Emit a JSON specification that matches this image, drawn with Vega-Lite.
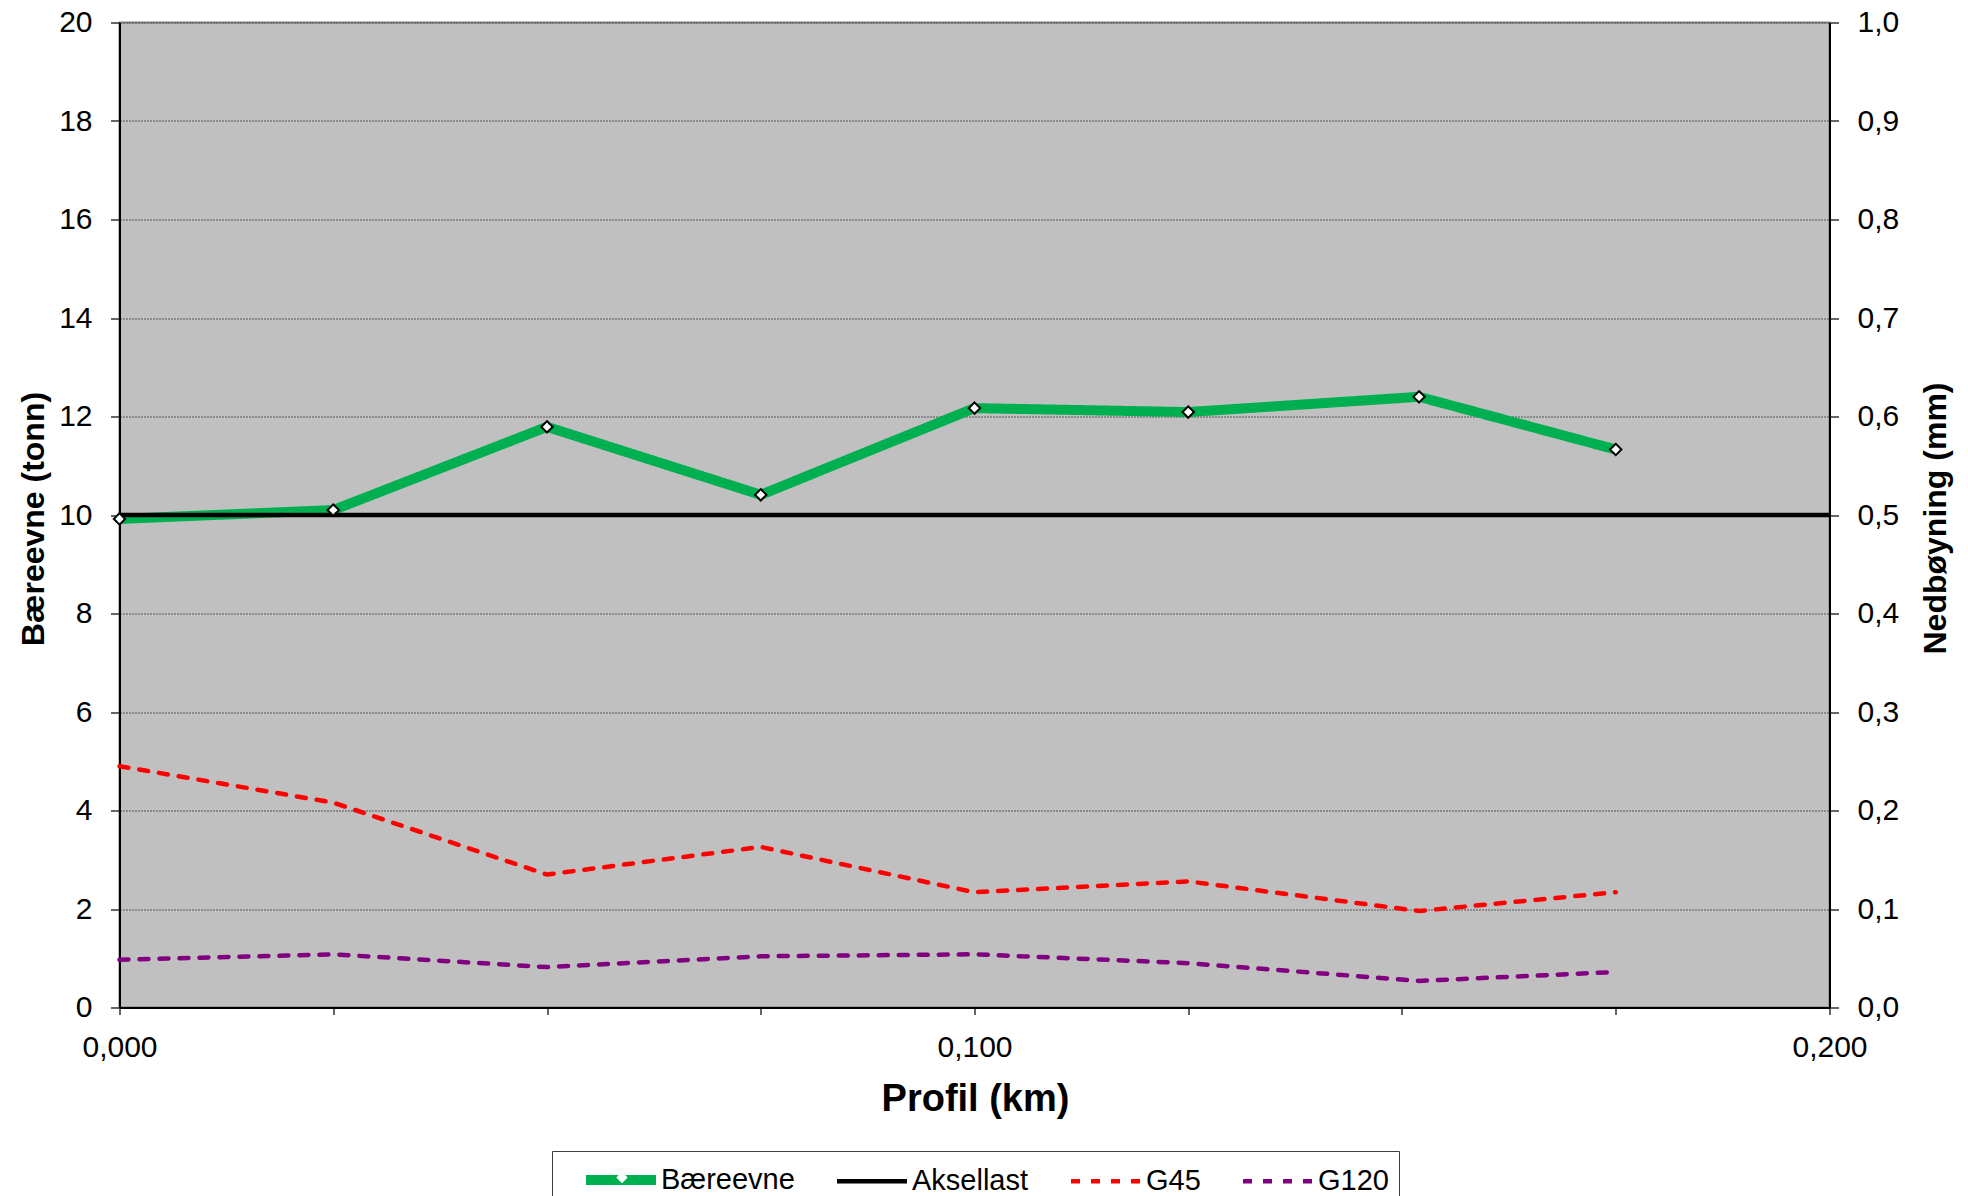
{
  "$schema": "https://vega.github.io/schema/vega-lite/v6.json",
  "width": 1710,
  "height": 985,
  "autosize": {"type": "none"},
  "padding": {"left": 119.5, "top": 22.5, "right": 138.5, "bottom": 188.5},
  "background": "white",
  "config": {
    "font": "Liberation Sans",
    "locale": {"number": {"decimal": ",", "thousands": " ", "grouping": [3], "currency": ["", " kr"]}},
    "view": {"fill": "#C0C0C0", "stroke": "#808080", "strokeWidth": 2},
    "axis": {
      "labelFont": "Liberation Sans",
      "labelFontSize": 30,
      "labelColor": "black",
      "titleFont": "Liberation Sans",
      "titleColor": "black",
      "titleFontWeight": "bold",
      "tickColor": "#333333",
      "tickWidth": 1.5,
      "domainColor": "black",
      "domainWidth": 2
    }
  },
  "data": {
    "values": [
      {"series": "Bæreevne", "km": 0.0, "value": 9.92},
      {"series": "Bæreevne", "km": 0.025, "value": 10.1},
      {"series": "Bæreevne", "km": 0.05, "value": 11.79},
      {"series": "Bæreevne", "km": 0.075, "value": 10.41},
      {"series": "Bæreevne", "km": 0.1, "value": 12.17},
      {"series": "Bæreevne", "km": 0.125, "value": 12.09},
      {"series": "Bæreevne", "km": 0.152, "value": 12.4},
      {"series": "Bæreevne", "km": 0.175, "value": 11.33},
      {"series": "Aksellast", "km": 0.0, "value": 10},
      {"series": "Aksellast", "km": 0.2, "value": 10},
      {"series": "G45", "km": 0.0, "value": 0.245},
      {"series": "G45", "km": 0.025, "value": 0.208},
      {"series": "G45", "km": 0.05, "value": 0.135},
      {"series": "G45", "km": 0.075, "value": 0.163},
      {"series": "G45", "km": 0.1, "value": 0.117},
      {"series": "G45", "km": 0.125, "value": 0.128},
      {"series": "G45", "km": 0.152, "value": 0.098},
      {"series": "G45", "km": 0.175, "value": 0.117},
      {"series": "G120", "km": 0.0, "value": 0.0485},
      {"series": "G120", "km": 0.025, "value": 0.054},
      {"series": "G120", "km": 0.05, "value": 0.041},
      {"series": "G120", "km": 0.075, "value": 0.052},
      {"series": "G120", "km": 0.1, "value": 0.054},
      {"series": "G120", "km": 0.125, "value": 0.045},
      {"series": "G120", "km": 0.152, "value": 0.027},
      {"series": "G120", "km": 0.175, "value": 0.036}
    ]
  },
  "encoding": {
    "x": {
      "field": "km",
      "type": "quantitative",
      "scale": {"domain": [0, 0.2], "nice": false, "zero": false},
      "axis": {
        "title": "Profil (km)",
        "values": [0, 0.025, 0.05, 0.075, 0.1, 0.125, 0.15, 0.175, 0.2],
        "format": ".3f",
        "labelExpr": "abs(datum.value * 10 - round(datum.value * 10)) < 0.001 ? datum.label : ''",
        "labelOverlap": false,
        "labelFlush": false,
        "labelBaseline": "top",
        "tickSize": 7,
        "labelPadding": 18,
        "grid": false,
        "titleFontSize": 38,
        "titleX": 855.5,
        "titleY": 103,
        "titleAlign": "center",
        "titleBaseline": "alphabetic"
      }
    },
    "color": {
      "field": "series",
      "type": "nominal",
      "scale": {"domain": ["Bæreevne", "Aksellast", "G45", "G120"], "range": ["#00B050", "#000000", "#FF0000", "#800080"]},
      "legend": {
        "orient": "none",
        "legendX": 432.5,
        "legendY": 1128.5,
        "direction": "horizontal",
        "columns": 4,
        "title": null,
        "symbolType": "M-2.5,0L2.5,0",
        "symbolSize": 784,
        "labelFontSize": 29,
        "labelFont": "Liberation Sans",
        "labelColor": "black",
        "strokeColor": "#404040",
        "fillColor": "white",
        "padding": 10,
        "symbolOffset": 40,
        "labelOffset": 21,
        "columnPadding": 18
      }
    },
    "strokeDash": {
      "field": "series",
      "type": "nominal",
      "scale": {"domain": ["Bæreevne", "Aksellast", "G45", "G120"], "range": [[1, 0], [1, 0], [9, 11], [9, 11]]}
    },
    "strokeWidth": {
      "field": "series",
      "type": "nominal",
      "scale": {"type": "ordinal", "domain": ["Bæreevne", "Aksellast", "G45", "G120"], "range": [10, 4.5, 4.5, 4.5]}
    }
  },
  "layer": [
    {
      "layer": [
        {
          "transform": [{"filter": "datum.series === 'Bæreevne'"}],
          "mark": {"type": "line", "strokeJoin": "miter"},
          "encoding": {
            "y": {
              "field": "value",
              "type": "quantitative",
              "scale": {"domain": [0, 20], "nice": false},
              "axis": {
                "orient": "left",
                "title": "Bæreevne (tonn)",
                "values": [0, 2, 4, 6, 8, 10, 12, 14, 16, 18, 20],
                "format": "d",
                "tickSize": 9,
                "labelPadding": 18.5,
                "labelBaseline": "middle",
                "grid": true,
                "gridColor": "#555555",
                "gridDash": [2, 1],
                "gridWidth": 1,
                "titleFontSize": 32,
                "titleAngle": 270,
                "titleX": -76,
                "titleY": 496,
                "titleAlign": "center",
                "titleBaseline": "alphabetic"
              }
            }
          }
        },
        {
          "transform": [{"filter": "datum.series === 'Aksellast'"}],
          "mark": {"type": "line"},
          "encoding": {
            "y": {"field": "value", "type": "quantitative"}
          }
        },
        {
          "transform": [{"filter": "datum.series === 'Bæreevne'"}],
          "mark": {"type": "point", "filled": true, "fill": "white", "stroke": "black", "strokeWidth": 2, "size": 130, "opacity": 1},
          "encoding": {
            "y": {"field": "value", "type": "quantitative"},
            "color": {"value": "black"},
            "strokeDash": {"value": [1, 0]},
            "strokeWidth": {"value": 2},
            "shape": {
              "field": "series",
              "type": "nominal",
              "scale": {"domain": ["Bæreevne"], "range": ["diamond"]},
              "legend": {
                "orient": "none",
                "legendX": 495.5,
                "legendY": 1148,
                "title": null,
                "padding": 0,
                "symbolOffset": 0,
                "symbolSize": 130,
                "symbolFillColor": "white",
                "symbolStrokeColor": "black",
                "symbolStrokeWidth": 2,
                "symbolDash": [1, 0],
                "labelExpr": "''",
                "labelFontSize": 1,
                "strokeColor": null,
                "fillColor": null
              }
            }
          }
        }
      ]
    },
    {
      "layer": [
        {
          "transform": [{"filter": "datum.series === 'G45'"}],
          "mark": {"type": "line", "strokeCap": "round"},
          "encoding": {
            "y": {
              "field": "value",
              "type": "quantitative",
              "scale": {"domain": [0, 1], "nice": false},
              "axis": {
                "orient": "right",
                "title": "Nedbøyning (mm)",
                "values": [0, 0.1, 0.2, 0.3, 0.4, 0.5, 0.6, 0.7, 0.8, 0.9, 1.0],
                "format": ".1f",
                "tickSize": 9,
                "labelPadding": 18.5,
                "labelBaseline": "middle",
                "grid": false,
                "titleFontSize": 32,
                "titleAngle": 270,
                "titleX": 115.5,
                "titleY": 495.5,
                "titleAlign": "center",
                "titleBaseline": "alphabetic"
              }
            }
          }
        },
        {
          "transform": [{"filter": "datum.series === 'G120'"}],
          "mark": {"type": "line", "strokeCap": "round"},
          "encoding": {
            "y": {"field": "value", "type": "quantitative"}
          }
        }
      ]
    }
  ],
  "resolve": {"scale": {"y": "independent"}}
}
